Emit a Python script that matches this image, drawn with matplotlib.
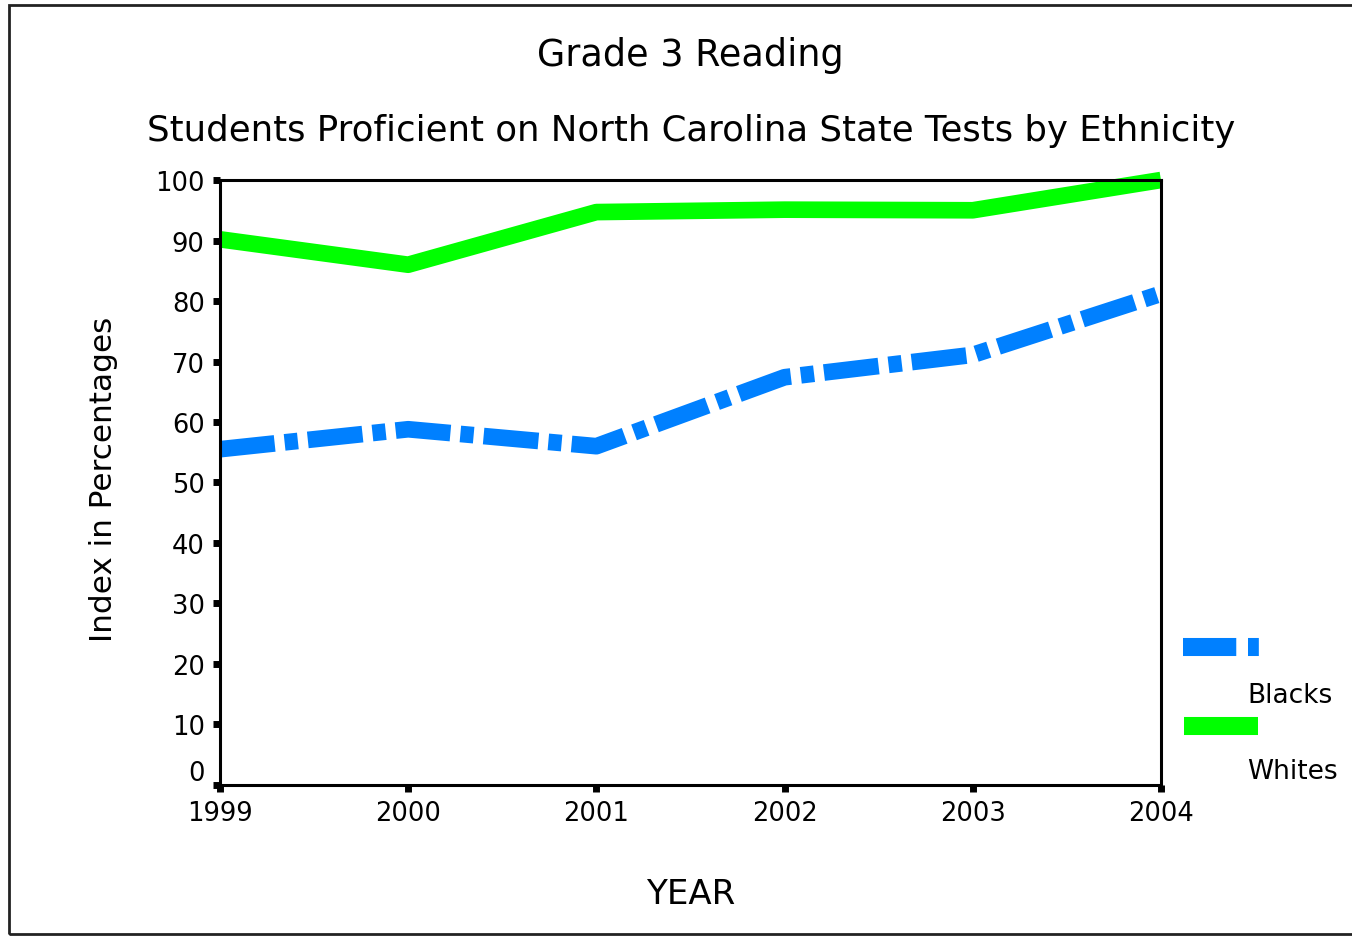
import numpy as np
import matplotlib.pyplot as plt
from matplotlib.lines import Line2D
from matplotlib.patches import Rectangle
from matplotlib.transforms import offset_copy

plt.rcParams['font.family'] = ['DejaVu Sans']

years = [1999, 2000, 2001, 2002, 2003, 2004]
blacks = [55.5, 58.8, 56.0, 67.4, 71.1, 81.2]
whites = [90.2, 86.0, 94.7, 95.1, 95.0, 100.0]
y_ticks = [0, 10, 20, 30, 40, 50, 60, 70, 80, 90, 100]

BLUE = '#0080ff'
GREEN = '#00ff00'
LW = 12
DASHES = (3.3, 0.6, 0.8, 0.6)

fig = plt.figure(figsize=(13.52, 9.37), dpi=100)
ax = fig.add_axes([0.1627, 0.1612, 0.696, 0.6456])

ax.plot(years, blacks, color=BLUE, lw=LW, dashes=DASHES,
        solid_capstyle='butt', dash_capstyle='butt', clip_on=False)
ax.plot(years, whites, color=GREEN, lw=LW, solid_capstyle='butt',
        clip_on=False)

ax.set_xlim(1999, 2004)
ax.set_ylim(0, 100)
ax.set_xticks(years)
ax.set_yticks(y_ticks)
ax.tick_params(axis='both', direction='out', length=5, width=5,
               labelsize=18.5)
ax.tick_params(axis='y', pad=6)
ax.tick_params(axis='x', pad=6)
for sp in ax.spines.values():
    sp.set_linewidth(2.2)

# the "0" label sits a bit above its tick in the original
zero = ax.yaxis.get_major_ticks()[0].label1
zero.set_transform(offset_copy(zero.get_transform(), fig=fig, y=15, units='dots'))

ax.set_xlabel('YEAR', fontsize=24.5, va='center')
ax.xaxis.set_label_coords(0.5, -0.180)
ax.set_ylabel('Index in Percentages', fontsize=22.4, va='center')
ax.yaxis.set_label_coords(-0.1243, 0.506)

fig.text(0.511, 1 - 55 / 937, 'Grade 3 Reading', ha='center', va='center', fontsize=26.3)
fig.text(0.511, 1 - 131 / 937, 'Students Proficient on North Carolina State Tests by Ethnicity',
         ha='center', va='center', fontsize=25.6)

# legend, laid out like the original (handle above label)
fig.add_artist(Line2D([1183 / 1352, 1259 / 1352], [1 - 648 / 937] * 2, color=BLUE, lw=13,
                      dashes=(2.95, 0.65, 0.6, 5), dash_capstyle='butt',
                      transform=fig.transFigure))
fig.text(1247 / 1352, 1 - 696 / 937, 'Blacks', ha='left', va='center', fontsize=19)
fig.add_artist(Line2D([1184 / 1352, 1258 / 1352], [1 - 727 / 937] * 2, color=GREEN, lw=13,
                      solid_capstyle='butt', transform=fig.transFigure))
fig.text(1247 / 1352, 1 - 772 / 937, 'Whites', ha='left', va='center', fontsize=19)

# outer frame
fig.add_artist(Rectangle((9 / 1352, 2 / 937), 1.2, 1 - 8 / 937, fill=False,
                         lw=2, edgecolor='#222222', transform=fig.transFigure))

fig.savefig('out.png', dpi=100)
